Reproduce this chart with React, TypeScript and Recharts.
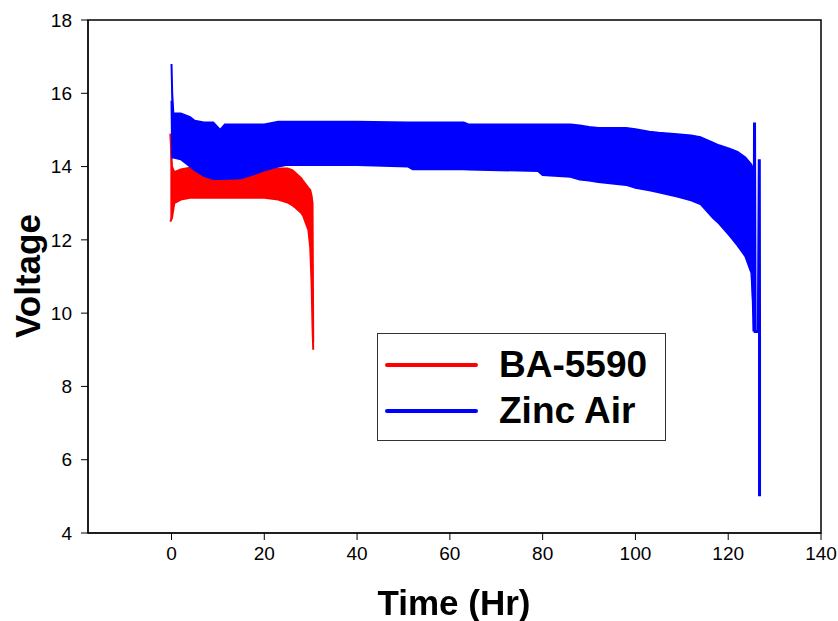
import React from 'react';
import { ComposedChart, Area, Line, XAxis, YAxis, ReferenceArea } from 'recharts';

// Zinc Air band (time in hours, lower and upper envelope of the oscillation, volts)
const blueTime = [0, 0.15, 0.4, 2, 4, 5, 7, 9, 10.5, 11.5, 15, 18, 20, 23, 25, 40, 51, 52, 63, 64, 79, 80, 86, 88, 90, 92, 98, 100, 103, 105, 109, 112, 114, 116.7, 118, 120.4, 122, 123.7, 125, 125.4];
const blueLow = [15.8, 14.25, 14.25, 14.2, 14.0, 13.9, 13.75, 13.66, 13.66, 13.66, 13.68, 13.8, 13.9, 14.0, 14.05, 14.04, 14.0, 13.93, 13.93, 13.92, 13.88, 13.77, 13.72, 13.65, 13.62, 13.58, 13.5, 13.42, 13.35, 13.3, 13.18, 13.08, 12.98, 12.6, 12.45, 12.1, 11.85, 11.55, 11.1, 10.2];
const blueHigh = [16.8, 16.0, 15.45, 15.45, 15.35, 15.25, 15.2, 15.2, 15.0, 15.15, 15.15, 15.15, 15.15, 15.22, 15.22, 15.22, 15.2, 15.2, 15.2, 15.15, 15.15, 15.15, 15.15, 15.12, 15.08, 15.05, 15.05, 15.02, 14.95, 14.92, 14.88, 14.85, 14.8, 14.65, 14.58, 14.48, 14.4, 14.25, 14.05, 13.9];

// Zinc Air end-of-life spikes
const blueTailTime = [125.3, 125.55, 125.67, 125.8, 126.5, 126.7, 126.75, 126.75];
const blueTailV = [11.0, 9.5, 15.2, 9.5, 9.5, 14.2, 9.4, 5.0];

// BA-5590 band
const redTime = [-0.25, 0.1, 0.6, 2, 4, 20, 23, 25, 26, 26.5, 28, 28.4, 29.5, 29.9, 30.2, 30.4, 30.55];
const redLow = [12.5, 12.6, 13.0, 13.1, 13.15, 13.15, 13.1, 13.02, 12.95, 12.9, 12.73, 12.65, 12.27, 11.8, 10.8, 9.6, 9.0];
const redHigh = [14.9, 14.0, 13.85, 13.92, 13.97, 13.95, 13.95, 13.95, 13.9, 13.85, 13.68, 13.6, 13.42, 13.36, 13.2, 13.0, 9.2];

const xTicks = [0, 20, 40, 60, 80, 100, 120, 140];
const yTicks = [4, 6, 8, 10, 12, 14, 16, 18];

const seriesNames = ['BA-5590', 'Zinc Air'];
const seriesColors = ['#ff0000', '#0000ff'];

const blueData = blueTime.map((t, i) => ({ t, range: [blueLow[i], blueHigh[i]] }));
const blueTail = blueTailTime.map((t, i) => ({ t, v: blueTailV[i] }));
const redData = redTime.map((t, i) => ({ t, range: [redLow[i], redHigh[i]] }));

const FONT = '"Liberation Sans", Arial, sans-serif';

const LegendBox = () => (
  <div
    style={{
      position: 'absolute',
      left: 377,
      top: 333,
      width: 287,
      height: 106,
      border: '1px solid #333',
      background: '#fff',
      fontFamily: FONT,
    }}
  >
    {seriesNames.map((name, i) => (
      <React.Fragment key={name}>
        <svg style={{ position: 'absolute', left: 6, top: 27 + i * 46 }} width={96} height={8}>
          <line x1={3} y1={4} x2={92} y2={4} stroke={seriesColors[i]} strokeWidth={4} strokeLinecap="round" />
        </svg>
        <div
          style={{
            position: 'absolute',
            left: 121,
            top: 12 + i * 46,
            fontSize: 37,
            lineHeight: '37px',
            fontWeight: 'bold',
            color: '#000',
            whiteSpace: 'nowrap',
          }}
        >
          {name}
        </div>
      </React.Fragment>
    ))}
  </div>
);

export default function App() {
  return (
    <div style={{ position: 'fixed', left: 0, top: 0, width: 838, height: 621, background: '#fff', fontFamily: FONT }}>
      <ComposedChart width={838} height={621} margin={{ top: 20, right: 17, bottom: 0, left: 0 }}>
        <XAxis
          dataKey="t"
          type="number"
          domain={[-18, 140]}
          allowDataOverflow
          ticks={xTicks}
          tickSize={7}
          tickMargin={7}
          height={88}
          stroke="#000"
          tick={{ fill: '#000', fontSize: 19, fontFamily: FONT }}
          allowDuplicatedCategory={false}
        />
        <YAxis
          type="number"
          domain={[4, 18]}
          allowDataOverflow
          ticks={yTicks}
          tickSize={7}
          tickMargin={9}
          width={88}
          stroke="#000"
          tick={{ fill: '#000', fontSize: 19, fontFamily: FONT }}
        />
        <ReferenceArea x1={-18} x2={140} y1={4} y2={18} fill="none" stroke="#000" strokeWidth={1.5} ifOverflow="visible" />
        <Area
          data={redData}
          dataKey="range"
          type="linear"
          stroke="#ff0000"
          strokeWidth={2}
          fill="#ff0000"
          fillOpacity={1}
          isAnimationActive={false}
          dot={false}
          activeDot={false}
        />
        <Area
          data={blueData}
          dataKey="range"
          type="linear"
          stroke="#0000ff"
          strokeWidth={2}
          fill="#0000ff"
          fillOpacity={1}
          isAnimationActive={false}
          dot={false}
          activeDot={false}
        />
        <Line
          data={blueTail}
          dataKey="v"
          type="linear"
          stroke="#0000ff"
          strokeWidth={3}
          dot={false}
          activeDot={false}
          isAnimationActive={false}
        />
      </ComposedChart>
      <LegendBox />
      <div
        style={{
          position: 'absolute',
          left: 27,
          top: 276,
          transform: 'translate(-50%, -50%) rotate(-90deg)',
          fontSize: 35,
          fontWeight: 'bold',
          lineHeight: '35px',
          whiteSpace: 'nowrap',
          color: '#000',
        }}
      >
        Voltage
      </div>
      <div
        style={{
          position: 'absolute',
          left: 454,
          top: 602,
          transform: 'translate(-50%, -50%)',
          fontSize: 35,
          fontWeight: 'bold',
          lineHeight: '35px',
          whiteSpace: 'nowrap',
          color: '#000',
        }}
      >
        Time (Hr)
      </div>
    </div>
  );
}
